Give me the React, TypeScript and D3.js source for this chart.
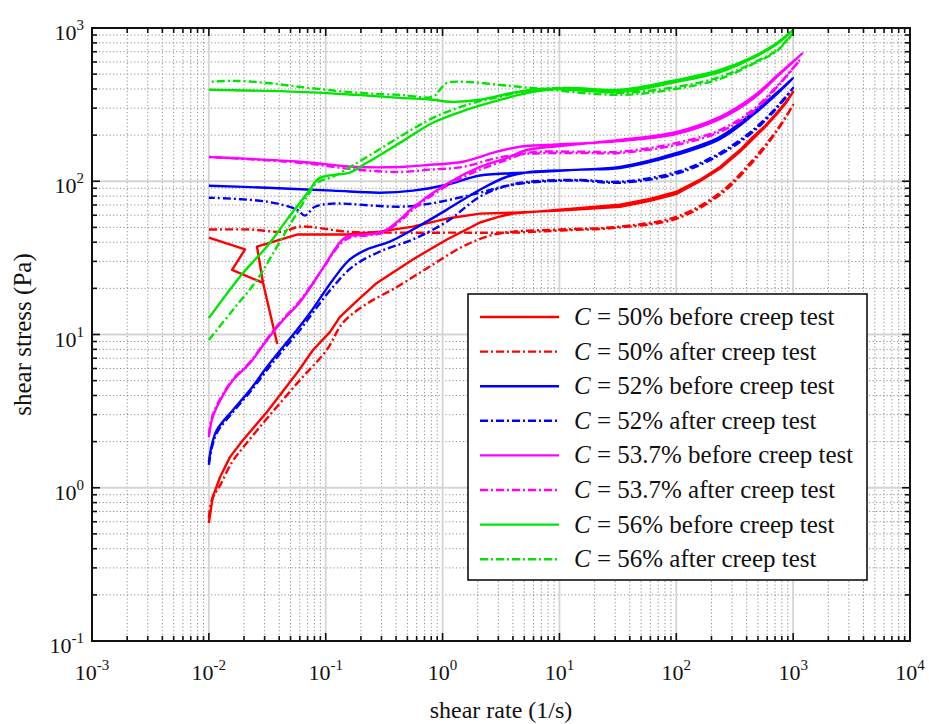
import React from 'react';
import * as d3 from 'd3';

type P = [number, number];

// shear rate (1/s), shear stress (Pa) — ramp up then ramp down
const c50Before: P[] = [
  [0.01, 0.589], [0.0108, 0.871], [0.0125, 1.18], [0.0152, 1.59], [0.0196, 2.05], [0.0314, 3.12],
  [0.0567, 5.6], [0.0778, 7.92], [0.109, 10.4], [0.132, 13.0], [0.189, 16.8], [0.274, 21.7],
  [0.557, 30.9], [1.09, 41.7], [2.09, 53.8], [3.0, 58.5], [4.0, 61.5], [10.1, 65.3], [33.0, 70.3],
  [59.6, 76.6], [101, 85.5], [159, 102], [237, 124], [351, 160], [453, 195], [573, 229], [727, 280],
  [867, 329], [1000, 383],
  [867, 324], [727, 275], [573, 225], [453, 189], [351, 156], [237, 121], [159, 100], [101, 82.9],
  [59.6, 74.5], [33.0, 68.2], [10.1, 64.3], [4.0, 62.4],
  [2.09, 61.5], [1.09, 57.1], [0.557, 50.6], [0.291, 46.9], [0.152, 44.9], [0.0567, 44.9],
  [0.0258, 37.5], [0.0291, 21.7], [0.0383, 8.81], [0.0291, 21.7], [0.0158, 26.4], [0.0204, 35.9],
  [0.01, 42.9],
];
const c50After: P[] = [
  [0.01, 0.635], [0.0106, 0.832], [0.0125, 1.04], [0.0158, 1.47], [0.0204, 1.9], [0.0333, 2.98],
  [0.0602, 5.04], [0.102, 7.92], [0.14, 11.9], [0.217, 15.6], [0.406, 20.4], [0.778, 27.8],
  [1.49, 37.5], [2.54, 44.2], [4.0, 46.9], [10.1, 48.4], [33.0, 50.6], [101, 58.8], [237, 84.2],
  [453, 138], [727, 216], [1000, 315],
  [727, 213], [453, 134], [237, 81.7], [101, 57.1], [33.0, 49.9], [10.1, 47.7], [4.0, 46.2],
  [1.41, 46.2], [0.431, 46.2], [0.152, 46.9], [0.0602, 50.6], [0.0431, 46.9], [0.0225, 48.4],
  [0.01, 48.4],
];
const c52Before: P[] = [
  [0.01, 1.47], [0.0106, 1.9], [0.0117, 2.38], [0.0161, 3.22], [0.0225, 4.34], [0.0314, 6.13],
  [0.0431, 8.29], [0.0567, 10.7], [0.0733, 13.8], [0.115, 22.7], [0.161, 30.9], [0.225, 35.9],
  [0.354, 40.4], [0.557, 48.4], [1.09, 65.3], [2.09, 88.1], [3.56, 107], [5.59, 115], [15.0, 119],
  [33.0, 124], [101, 153], [237, 195], [453, 280], [727, 378], [1000, 472],
  [727, 372], [453, 271], [237, 189], [101, 149], [33.0, 122], [15.0, 119], [5.27, 114],
  [2.09, 109], [1.09, 94.9], [0.557, 86.8], [0.291, 84.2], [0.115, 86.8], [0.0314, 90.7],
  [0.01, 93.5],
];
const c52After: P[] = [
  [0.01, 1.41], [0.0106, 1.82], [0.0117, 2.28], [0.0161, 3.12], [0.0225, 4.21], [0.0314, 5.86],
  [0.0431, 7.92], [0.0602, 10.7], [0.0809, 14.5], [0.115, 20.4], [0.171, 27.8], [0.291, 34.8],
  [0.557, 41.7], [1.09, 54.6], [2.09, 79.3], [3.56, 93.5], [5.59, 99.3], [15.0, 102], [33.0, 99.3],
  [101, 115], [237, 153], [453, 216], [727, 306], [1000, 406],
  [727, 301], [453, 210], [237, 149], [101, 112], [33.0, 97.8], [15.0, 101], [6.81, 99.3],
  [3.56, 93.5], [2.09, 84.2], [0.778, 71.4], [0.431, 68.2], [0.115, 71.4], [0.0809, 68.2],
  [0.0664, 59.7], [0.0567, 65.3], [0.0314, 73.6], [0.01, 78.1],
];
const c537Before: P[] = [
  [0.01, 2.14], [0.0106, 2.77], [0.0117, 3.36], [0.0161, 5.04], [0.0225, 6.51], [0.0314, 9.21],
  [0.0431, 12.4], [0.0602, 16.3], [0.0947, 27.1], [0.132, 39.8], [0.152, 43.6], [0.225, 44.9],
  [0.309, 46.9], [0.431, 56.2], [0.557, 67.3], [1.09, 96.3], [2.09, 124], [3.56, 142], [5.27, 160],
  [10.1, 170], [33.0, 186], [101, 210], [237, 263], [453, 356], [771, 509], [1213, 688],
  [771, 502], [453, 345], [237, 255], [101, 204], [33.0, 183], [8.8, 173], [4.59, 168],
  [2.92, 156], [1.49, 134], [0.778, 128], [0.431, 124], [0.185, 124], [0.0602, 134], [0.01, 144],
];
const c537After: P[] = [
  [0.01, 2.21], [0.0106, 2.85], [0.0117, 3.46], [0.0161, 5.12], [0.0225, 6.61], [0.0314, 9.35],
  [0.0431, 12.6], [0.0602, 16.6], [0.0947, 27.0], [0.132, 38.6], [0.161, 42.9], [0.225, 44.2],
  [0.309, 46.2], [0.431, 54.6], [0.557, 65.3], [1.09, 93.5], [2.09, 119], [3.56, 138], [5.27, 153],
  [15.0, 156], [33.0, 156], [101, 178], [237, 216], [453, 293], [771, 438], [1143, 619],
  [771, 432], [453, 284], [237, 210], [101, 173], [33.0, 153], [15.0, 153], [5.27, 151],
  [2.92, 142], [1.49, 124], [0.778, 119], [0.431, 115], [0.185, 119], [0.0602, 132], [0.01, 144],
];
const c56Before: P[] = [
  [0.01, 12.8], [0.0196, 25.2], [0.0314, 37.5], [0.0466, 56.2], [0.0602, 72.5], [0.0733, 88.1],
  [0.0841, 102], [0.0947, 107], [0.115, 110], [0.161, 114], [0.225, 132], [0.431, 178],
  [0.826, 241], [1.61, 293], [3.1, 340], [5.93, 383], [11.6, 406], [33.0, 395], [101, 458],
  [237, 532], [453, 648], [727, 798], [1000, 970],
  [727, 787], [453, 638], [237, 516], [101, 445], [33.0, 383], [7.82, 401], [4.0, 378],
  [2.09, 340], [1.16, 330], [0.826, 340], [0.431, 350], [0.185, 366], [0.0602, 383], [0.01, 395],
];
const c56After: P[] = [
  [0.01, 9.21], [0.0161, 14.5], [0.0258, 22.7], [0.0383, 37.5], [0.0525, 56.2], [0.0692, 79.3],
  [0.0841, 97.8], [0.115, 107], [0.225, 144], [0.431, 195], [0.826, 259], [1.61, 315], [3.1, 356],
  [5.93, 395], [11.6, 406], [33.0, 378], [101, 413], [237, 480], [453, 591], [727, 719], [1000, 927],
  [727, 708], [453, 583], [237, 465], [101, 401], [33.0, 366], [5.93, 406], [3.1, 425], [1.61, 445],
  [1.09, 438], [0.948, 395], [0.826, 356], [0.431, 366], [0.185, 378], [0.0602, 413], [0.0314, 438],
  [0.0161, 452], [0.01, 445],
];

const concentrations = ['50%', '50%', '52%', '52%', '53.7%', '53.7%', '56%', '56%'];
const phases = ['before creep test', 'after creep test', 'before creep test', 'after creep test',
  'before creep test', 'after creep test', 'before creep test', 'after creep test'];
const colors = ['#ff0000', '#ff0000', '#0000ff', '#0000ff', '#ff00ff', '#ff00ff', '#00e600', '#00e600'];
const datasets = [c50Before, c50After, c52Before, c52After, c537Before, c537After, c56Before, c56After];

const xDecades = [-3, -2, -1, 0, 1, 2, 3, 4];
const yDecades = [-1, 0, 1, 2, 3];

const W = 929;
const H = 724;
const L = 92, R = 910, T = 28, B = 641;
const FONT = '"Liberation Serif", "Times New Roman", serif';
const DASH = '8,3,2,3';

export default function App() {
  const x = d3.scaleLog().domain([1e-3, 1e4]).range([L, R]);
  const y = d3.scaleLog().domain([1e-1, 1e3]).range([B, T]);
  const smooth = d3.line<P>().x((d) => x(d[0])).y((d) => y(d[1])).curve(d3.curveCatmullRom.alpha(0.5));
  const straight = d3.line<P>().x((d) => x(d[0])).y((d) => y(d[1]));

  const xMinor: number[] = [];
  xDecades.slice(0, -1).forEach((d) => { for (let k = 2; k <= 9; k++) xMinor.push(k * Math.pow(10, d)); });
  const yMinor: number[] = [];
  yDecades.slice(0, -1).forEach((d) => { for (let k = 2; k <= 9; k++) yMinor.push(k * Math.pow(10, d)); });

  const legX = 468, legY = 294, legW = 399, legH = 286;
  const rowH = 34.6;

  return (
    <svg width={W} height={H} style={{ position: 'absolute', left: 0, top: 0, background: '#fff' }}
      fontFamily={FONT}>
      <defs>
        <clipPath id="plotclip"><rect x={L} y={T} width={R - L} height={B - T} /></clipPath>
      </defs>
      <rect x={0} y={0} width={W} height={H} fill="#fff" />
      {/* minor grid */}
      <g stroke="#8e8e8e" strokeWidth={1} strokeDasharray="1.2,2.3">
        {xMinor.map((v, i) => <line key={'xm' + i} x1={x(v)} x2={x(v)} y1={T} y2={B} />)}
        {yMinor.map((v, i) => <line key={'ym' + i} x1={L} x2={R} y1={y(v)} y2={y(v)} />)}
      </g>
      {/* major grid */}
      <g stroke="#d4d4d4" strokeWidth={1.8}>
        {xDecades.map((d) => <line key={'xg' + d} x1={x(Math.pow(10, d))} x2={x(Math.pow(10, d))} y1={T} y2={B} />)}
        {yDecades.map((d) => <line key={'yg' + d} x1={L} x2={R} y1={y(Math.pow(10, d))} y2={y(Math.pow(10, d))} />)}
      </g>
      {/* data */}
      <g clipPath="url(#plotclip)" fill="none" strokeWidth={2.4} strokeLinejoin="round">
        {datasets.map((ds, i) => (
          <path key={'s' + i} d={(i === 0 ? straight(ds) : smooth(ds)) || ''} stroke={colors[i]}
            strokeDasharray={i % 2 === 1 ? DASH : undefined} />
        ))}
      </g>
      {/* ticks */}
      <g stroke="#111" strokeWidth={1.6}>
        {xDecades.map((d) => {
          const px = x(Math.pow(10, d));
          return (
            <g key={'xt' + d}>
              <line x1={px} x2={px} y1={B} y2={B - 8} />
              <line x1={px} x2={px} y1={T} y2={T + 8} />
            </g>
          );
        })}
        {xMinor.map((v, i) => (
          <g key={'xmt' + i}>
            <line x1={x(v)} x2={x(v)} y1={B} y2={B - 5} />
            <line x1={x(v)} x2={x(v)} y1={T} y2={T + 5} />
          </g>
        ))}
        {yDecades.map((d) => {
          const py = y(Math.pow(10, d));
          return (
            <g key={'yt' + d}>
              <line x1={L} x2={L + 8} y1={py} y2={py} />
              <line x1={R} x2={R - 8} y1={py} y2={py} />
            </g>
          );
        })}
        {yMinor.map((v, i) => (
          <g key={'ymt' + i}>
            <line x1={L} x2={L + 5} y1={y(v)} y2={y(v)} />
            <line x1={R} x2={R - 5} y1={y(v)} y2={y(v)} />
          </g>
        ))}
      </g>
      {/* frame */}
      <rect x={L} y={T} width={R - L} height={B - T} fill="none" stroke="#111" strokeWidth={2} />
      {/* tick labels */}
      <g fill="#111" fontSize={22}>
        {xDecades.map((d) => (
          <text key={'xl' + d} x={x(Math.pow(10, d))} y={680} textAnchor="middle">
            10<tspan fontSize={15} dy={-10}>{String(d)}</tspan>
          </text>
        ))}
        {yDecades.map((d) => (
          <text key={'yl' + d} x={84} y={y(Math.pow(10, d)) + 12} textAnchor="end">
            10<tspan fontSize={15} dy={-10}>{String(d)}</tspan>
          </text>
        ))}
      </g>
      {/* axis labels */}
      <text x={(L + R) / 2} y={718} textAnchor="middle" fontSize={24} fill="#111">shear rate (1/s)</text>
      <text transform={`translate(31, ${(T + B) / 2}) rotate(-90)`} textAnchor="middle" fontSize={25} fill="#111">
        shear stress (Pa)
      </text>
      {/* legend */}
      <g>
        <rect x={legX} y={legY} width={legW} height={legH} fill="#fff" stroke="#111" strokeWidth={1.6} />
        {datasets.map((_, i) => {
          const cy = legY + 23 + i * rowH;
          return (
            <g key={'lg' + i}>
              <line x1={480} x2={559} y1={cy} y2={cy} stroke={colors[i]} strokeWidth={2.4}
                strokeDasharray={i % 2 === 1 ? DASH : undefined} />
              <text x={574} y={cy + 8} fontSize={25} fill="#111">
                <tspan fontStyle="italic">C</tspan>{` = ${concentrations[i]} ${phases[i]}`}
              </text>
            </g>
          );
        })}
      </g>
    </svg>
  );
}
